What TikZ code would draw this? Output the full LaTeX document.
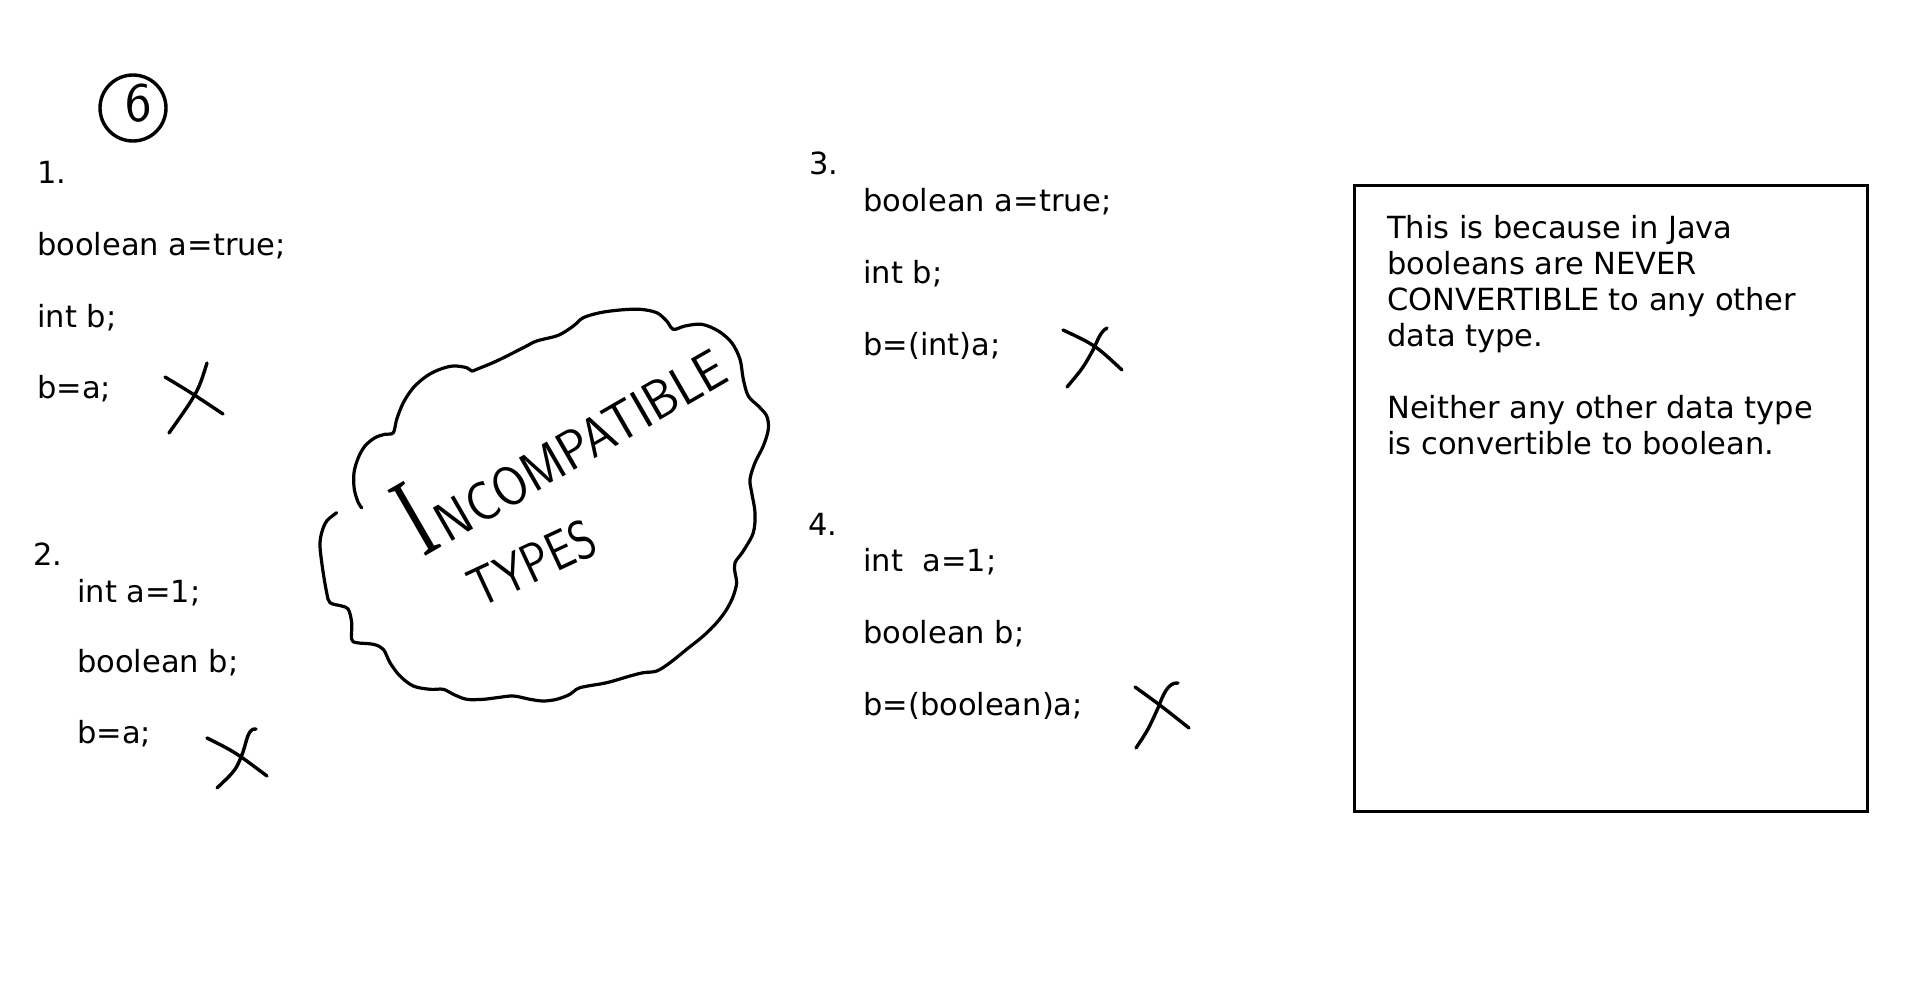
\documentclass[tikz,border=0pt]{standalone}
\usepackage{fontspec}
\setmainfont{DejaVu Sans}
\newfontfamily\handserif{Liberation Serif}
\usepackage{graphicx}
\begin{document}
\begin{tikzpicture}[x=1pt,y=-1pt,
  codeline/.style={anchor=base west, inner sep=0pt, font=\fontsize{30.5}{36}\selectfont},
  ink/.style={line width=3.4pt, line cap=round, line join=round},
  hand/.style={inner sep=0pt, font=\sffamily\fontsize{55}{55}\selectfont}]
\useasboundingbox[fill=white] (0,0) rectangle (1920,1001);

% circled 6
\node (ring) [circle, draw, line width=3.4pt, minimum size=66pt, inner sep=0pt] at (133,108) {};
\node (six) [hand, font=\sffamily\fontsize{56}{56}\selectfont] at (139,103) {6};

% block 1
\node (n1) [codeline] at (37,183) {1.};
\node (a1) [codeline] at (37,255) {boolean a=true;};
\node (b1) [codeline] at (37,327) {int b;};
\node (c1) [codeline] at (37,398) {b=a;};
\draw[ink] (165,377) .. controls (190,392) .. (223,414);
\draw[ink] (207,363) .. controls (198,392) .. (169,433);

% block 2
\node (n2) [codeline] at (33,565) {2.};
\node (a2) [codeline] at (77,602) {int a=1;};
\node (b2) [codeline] at (77,672) {boolean b;};
\node (c2) [codeline] at (77,743) {b=a;};
\draw[ink] (207,738) .. controls (235,752) .. (267,776);
\draw[ink] (256,729) .. controls (248,728) and (247,740) .. (243,752) .. controls (236,770) .. (217,788);

% block 3
\node (n3) [codeline] at (809,174) {3.};
\node (a3) [codeline] at (863,211) {boolean a=true;};
\node (b3) [codeline] at (863,283) {int b;};
\node (c3) [codeline] at (863,355) {b=(int)a;};
\draw[ink] (1063,330) .. controls (1095,345) .. (1122,370);
\draw[ink] (1107,328) .. controls (1100,332) and (1098,340) .. (1093,350) .. controls (1083,368) .. (1067,387);

% block 4
\node (n4) [codeline] at (808,535) {4.};
\node (a4) [codeline] at (863,571) {int\ \ a=1;};
\node (b4) [codeline] at (863,643) {boolean b;};
\node (c4) [codeline] at (863,715) {b=(boolean)a;};
\draw[ink] (1135,687) .. controls (1160,705) .. (1189,728);
\draw[ink] (1178,683) .. controls (1168,682) and (1163,695) .. (1158,708) .. controls (1148,730) .. (1136,748);

% cloud
\draw[ink, line width=3.2pt, yshift=-6pt] plot[smooth, tension=0.55] coordinates {
(336.7,506.7) (326.7,515) (321.7,526.7) (320,540) (322.7,563.3) (326.7,586.7)
(330,596.7) (341.7,600) (348.3,603.3) (351.7,616.7) (351.7,633.3) (356.7,636.7)
(373.3,638.3) (383.3,643.3) (390,656.7) (400,670) (413.3,680) (430,683.3)
(443.3,683.3) (453.3,688.3) (466.7,693.3) (483.3,693.3) (496.7,691.7) (513.3,690)
(530,693.3) (543.3,695) (556.7,693.3) (570,688.3) (580,681.7) (606.7,676.7)
(630,670) (643.3,666.7) (656.7,665) (670,656.7) (686.7,643.3) (703.3,630)
(716.7,616.7) (726.7,603.3) (733.3,590) (736.7,576.7) (735,566.7) (735,556.7)
(743.3,545) (753.3,526.7) (755,506.7) (751.7,486.7) (750,473.3) (755,456.7)
(763.3,440) (768.3,423.3) (766.7,410) (758.3,400) (748.3,390) (743.3,373.3)
(740,353.3) (731.7,336.7) (718.3,325) (701.7,318.3) (685,320) (673.3,323.3)
(666.7,315) (656.7,306.7) (640,303.3) (620,304) (600,306.7) (583.3,311.7)
(573.3,320) (558.3,329.3) (536.7,335) (523.3,341.7) (496.7,355) (476.7,363.3)
(471.7,365) (466.7,361.7) (453.3,360) (440,363.3) (426.7,370) (413.3,381.7)
(403.3,396.7) (396.7,413.3) (393.3,426.7) (385,428.3) (375,431.7) (365,440)
(358.3,451.7) (354,466.7) (354.3,483.3) (358.3,496.7) (361.7,501.7)};

\node (word1) [hand, anchor=base west, rotate=30] at (423,558)
  {{\handserif\scalebox{1.3}[2.1]{I}}\hspace{6pt}\scalebox{0.92}[1]{NCOMPATIBLE}};
\node (word2) [hand, rotate=25] at (532,563) {\scalebox{0.82}[1]{TYPES}};

% explanation box
\draw[line width=3pt] (1354,185) rectangle (1867,811);
\node (note) [codeline, align=left] at (1387,454)
  {This is because in Java\\booleans are NEVER\\CONVERTIBLE to any other\\data type.\\[36pt]Neither any other data type\\is convertible to boolean.};
\end{tikzpicture}
\end{document}
